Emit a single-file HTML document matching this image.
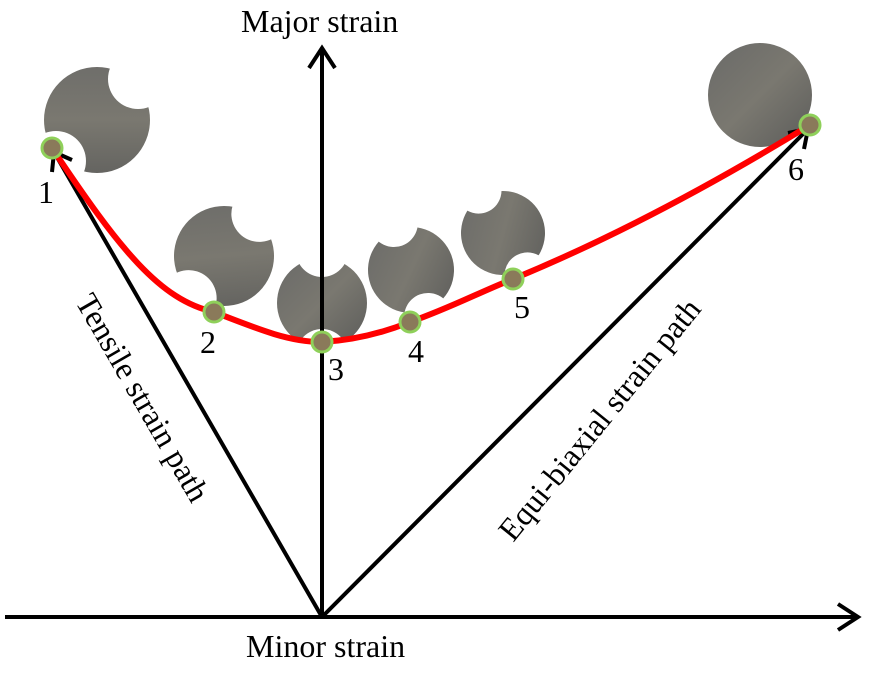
<!DOCTYPE html>
<html><head><style>body{margin:0;background:#fff}svg{display:block}</style></head><body>
<svg width="871" height="677" viewBox="0 0 871 677" xmlns="http://www.w3.org/2000/svg" font-family="Liberation Serif, serif" font-size="32">
<defs>
<linearGradient id="g" x1="0" y1="0" x2="1" y2="1"><stop offset="0" stop-color="#6a6a68"/><stop offset="0.5" stop-color="#7a7870"/><stop offset="1" stop-color="#5c5c5a"/></linearGradient>
</defs>
<g transform="translate(97,120) rotate(45)"><circle r="53" fill="url(#g)"/><circle cy="-58" r="30" fill="#fff"/><circle cy="58" r="30" fill="#fff"/></g>
<g transform="translate(224,256) rotate(40)"><circle r="50" fill="url(#g)"/><circle cy="-55" r="28" fill="#fff"/><circle cy="55" r="28" fill="#fff"/></g>
<g transform="translate(322,303)"><circle r="45" fill="url(#g)"/><circle cy="-52" r="26" fill="#fff"/><circle cy="52" r="26" fill="#fff"/></g>
<g transform="translate(411,270) rotate(-20)"><circle r="43" fill="url(#g)"/><circle cy="-50" r="24" fill="#fff"/><circle cy="50" r="24" fill="#fff"/></g>
<g transform="translate(503,233) rotate(-30)"><circle r="42" fill="url(#g)"/><circle cy="-49" r="23" fill="#fff"/><circle cy="49" r="23" fill="#fff"/></g>
<circle cx="760" cy="95" r="52" fill="url(#g)"/>
<g stroke="#000" stroke-width="4" fill="none">
<line x1="5" y1="617" x2="858" y2="617"/><polyline points="838,604 858,617 838,630"/>
<line x1="322" y1="617" x2="322" y2="48"/><polyline points="309,68 322,48 335,68"/>
<line x1="322" y1="617" x2="54" y2="152"/><polyline points="52,172 54,152 72,160"/>
<line x1="322" y1="617" x2="808" y2="129"/><polyline points="788,133 808,129 804,149"/>
</g>
<path d="M52,148 C120,250 160,300 214,312 C260,330 290,342 322,342 C360,340 390,330 410,322 C450,308 480,292 513,279 C620,235 720,180 810,125" stroke="#f00" stroke-width="6" fill="none"/>
<g fill="#8a7a5a" stroke="#8fd05a" stroke-width="3">
<circle cx="52" cy="148" r="10"/><circle cx="214" cy="312" r="10"/><circle cx="322" cy="342" r="10"/><circle cx="410" cy="322" r="10"/><circle cx="513" cy="279" r="10"/><circle cx="810" cy="125" r="10"/>
</g>
<text x="241" y="32">Major strain</text>
<text x="246" y="657">Minor strain</text>
<text x="38" y="203">1</text><text x="200" y="353">2</text><text x="328" y="380">3</text><text x="408" y="362">4</text><text x="514" y="318">5</text><text x="788" y="180">6</text>
<text transform="translate(142,398) rotate(60)" text-anchor="middle" dy="10">Tensile strain path</text>
<text transform="translate(600,420) rotate(-51)" text-anchor="middle" dy="10">Equi-biaxial strain path</text>
</svg>
</body></html>
